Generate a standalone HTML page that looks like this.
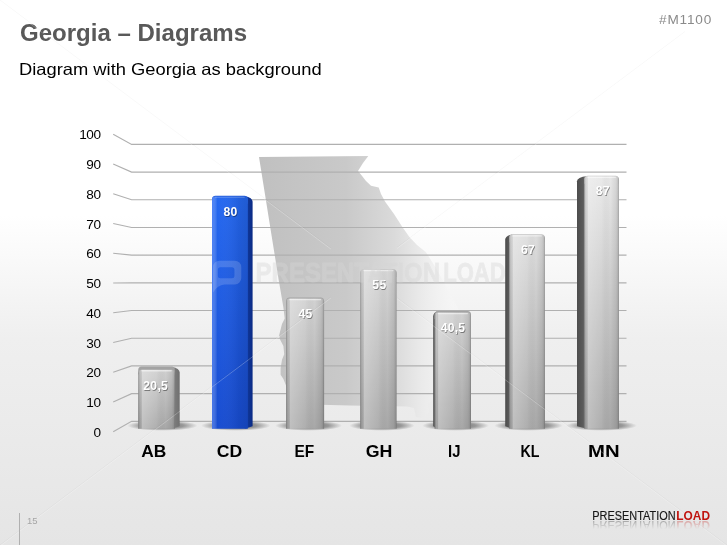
<!DOCTYPE html>
<html><head><meta charset="utf-8"><title>Georgia - Diagrams</title>
<style>html,body{margin:0;padding:0;background:#fff;}body{width:727px;height:545px;overflow:hidden;font-family:"Liberation Sans", sans-serif;}svg{display:block;will-change:transform;}text{font-family:"Liberation Sans", sans-serif;}</style>
</head><body>
<svg width="727" height="545" viewBox="0 0 727 545">
<defs>
<linearGradient id="bg" x1="0" y1="0" x2="0" y2="1">
 <stop offset="0" stop-color="#ffffff"/><stop offset="0.395" stop-color="#ffffff"/><stop offset="0.62" stop-color="#efefef"/><stop offset="1" stop-color="#e5e5e5"/>
</linearGradient>
<linearGradient id="mapg" gradientUnits="userSpaceOnUse" x1="259" y1="0" x2="452" y2="0">
 <stop offset="0" stop-color="#c0c0c0"/><stop offset="0.45" stop-color="#c9c9c9"/><stop offset="0.70" stop-color="#dadada"/><stop offset="0.84" stop-color="#eaeaea"/><stop offset="1" stop-color="#f6f6f6" stop-opacity="0.6"/>
</linearGradient>
<linearGradient id="gv" gradientUnits="userSpaceOnUse" x1="0" y1="172" x2="0" y2="429">
 <stop offset="0" stop-color="#e0e0e0"/><stop offset="0.5" stop-color="#c6c6c6"/><stop offset="1" stop-color="#a6a6a6"/>
</linearGradient>
<linearGradient id="gh" x1="0" y1="0" x2="1" y2="0">
 <stop offset="0" stop-color="#000" stop-opacity="0.30"/><stop offset="0.05" stop-color="#000" stop-opacity="0.04"/><stop offset="0.11" stop-color="#fff" stop-opacity="0.26"/><stop offset="0.5" stop-color="#fff" stop-opacity="0.08"/><stop offset="0.75" stop-color="#000" stop-opacity="0.0"/><stop offset="0.92" stop-color="#000" stop-opacity="0.08"/><stop offset="0.97" stop-color="#000" stop-opacity="0.16"/><stop offset="1" stop-color="#000" stop-opacity="0.34"/>
</linearGradient>
<linearGradient id="bv" x1="0" y1="0" x2="0" y2="1">
 <stop offset="0" stop-color="#2568f0"/><stop offset="1" stop-color="#184cd0"/>
</linearGradient>
<linearGradient id="bh" x1="0" y1="0" x2="1" y2="0">
 <stop offset="0" stop-color="#6f9bff" stop-opacity="0.5"/><stop offset="0.15" stop-color="#fff" stop-opacity="0.0"/><stop offset="0.75" stop-color="#000" stop-opacity="0.08"/><stop offset="1" stop-color="#000" stop-opacity="0.12"/>
</linearGradient>
<linearGradient id="bs" x1="0" y1="0" x2="1" y2="0">
 <stop offset="0" stop-color="#1b4fc4"/><stop offset="0.45" stop-color="#0f3596"/><stop offset="1" stop-color="#0a2a84"/>
</linearGradient>
<linearGradient id="gs" x1="0" y1="0" x2="1" y2="0">
 <stop offset="0" stop-color="#969696"/><stop offset="0.45" stop-color="#7a7a7a"/><stop offset="1" stop-color="#707070"/>
</linearGradient>
<linearGradient id="gl" x1="0" y1="0" x2="1" y2="0">
 <stop offset="0" stop-color="#4c4c4c"/><stop offset="0.6" stop-color="#5c5c5c"/><stop offset="1" stop-color="#8c8c8c"/>
</linearGradient>
<filter id="tb" x="-20%" y="-20%" width="140%" height="140%"><feGaussianBlur stdDeviation="0.6"/></filter>
<radialGradient id="sh" cx="0.5" cy="0.5" r="0.5">
 <stop offset="0" stop-color="#000" stop-opacity="0.55"/><stop offset="0.6" stop-color="#000" stop-opacity="0.35"/><stop offset="1" stop-color="#000" stop-opacity="0"/>
</radialGradient>
<linearGradient id="refl" x1="0" y1="0" x2="0" y2="1">
 <stop offset="0" stop-color="#fff" stop-opacity="0.34"/><stop offset="1" stop-color="#fff" stop-opacity="0"/>
</linearGradient>
<mask id="rm"><rect x="585" y="520" width="135" height="9" fill="url(#refl)"/></mask>
</defs>
<rect width="727" height="545" fill="url(#bg)"/>
<text x="20" y="40.5" font-size="23" font-weight="bold" fill="#595959" textLength="227" lengthAdjust="spacingAndGlyphs">Georgia – Diagrams</text>
<text x="19.0" y="75" font-size="16.5" fill="#000" textLength="302.6" lengthAdjust="spacingAndGlyphs">Diagram with Georgia as background</text>
<text x="659" y="24.4" font-size="13.6" fill="#8a8a8a" textLength="52.3" lengthAdjust="spacing">#M1100</text>
<path d="M259.0 157.0L368.3 156.0L363.0 163.0L358.0 171.0L361.5 175.3L366.0 181.0L371.0 185.7L378.7 187.6L381.0 194.0L385.0 201.4L394.0 214.0L402.7 227.5L409.6 237.2L417.0 245.0L426.0 252.3L436.0 268.0L448.0 290.0L457.0 306.0L464.0 320.0L461.0 332.0L455.0 350.0L449.0 370.0L443.0 388.0L440.0 398.0L432.0 400.0L428.0 404.0L429.0 412.0L424.0 418.0L416.0 417.0L414.0 408.0L407.0 406.5L350.0 405.5L291.0 404.0L288.0 395.0L286.7 387.2L283.4 379.0L280.6 374.8L280.6 368.0L282.0 359.7L284.2 354.2L283.4 346.0L279.8 339.0L279.2 335.0L282.0 324.0L284.7 318.5L283.4 307.5L280.6 291.0L278.7 280.0Z" fill="url(#mapg)"/>
<path d="M113.2 431.70L131.6 421.30L626.5 421.30M113.2 401.95L131.6 393.61L626.5 393.61M113.2 372.20L131.6 365.92L626.5 365.92M113.2 342.45L131.6 338.23L626.5 338.23M113.2 312.70L131.6 310.54L626.5 310.54M113.2 282.95L131.6 282.85L626.5 282.85M113.2 253.20L131.6 255.16L626.5 255.16M113.2 223.45L131.6 227.47L626.5 227.47M113.2 193.70L131.6 199.78L626.5 199.78M113.2 163.95L131.6 172.09L626.5 172.09M113.2 134.20L131.6 144.40L626.5 144.40" fill="none" stroke="#b0b0b0" stroke-width="1.15"/>
<text x="100.6" y="436.9" font-size="13.6" letter-spacing="-0.45" text-anchor="end" fill="#000">0</text>
<text x="100.6" y="407.1" font-size="13.6" letter-spacing="-0.45" text-anchor="end" fill="#000">10</text>
<text x="100.6" y="377.4" font-size="13.6" letter-spacing="-0.45" text-anchor="end" fill="#000">20</text>
<text x="100.6" y="347.6" font-size="13.6" letter-spacing="-0.45" text-anchor="end" fill="#000">30</text>
<text x="100.6" y="317.9" font-size="13.6" letter-spacing="-0.45" text-anchor="end" fill="#000">40</text>
<text x="100.6" y="288.1" font-size="13.6" letter-spacing="-0.45" text-anchor="end" fill="#000">50</text>
<text x="100.6" y="258.4" font-size="13.6" letter-spacing="-0.45" text-anchor="end" fill="#000">60</text>
<text x="100.6" y="228.6" font-size="13.6" letter-spacing="-0.45" text-anchor="end" fill="#000">70</text>
<text x="100.6" y="198.9" font-size="13.6" letter-spacing="-0.45" text-anchor="end" fill="#000">80</text>
<text x="100.6" y="169.1" font-size="13.6" letter-spacing="-0.45" text-anchor="end" fill="#000">90</text>
<text x="100.6" y="139.4" font-size="13.6" letter-spacing="-0.45" text-anchor="end" fill="#000">100</text>
<ellipse cx="162.4" cy="425.6" rx="35.2" ry="5.2" fill="url(#sh)"/>
<ellipse cx="235.8" cy="425.6" rx="34.8" ry="5.2" fill="url(#sh)"/>
<ellipse cx="308.6" cy="425.6" rx="33.5" ry="5.2" fill="url(#sh)"/>
<ellipse cx="381.9" cy="425.6" rx="32.7" ry="5.2" fill="url(#sh)"/>
<ellipse cx="455.6" cy="425.6" rx="33.4" ry="5.2" fill="url(#sh)"/>
<ellipse cx="528.5" cy="425.6" rx="34.3" ry="5.2" fill="url(#sh)"/>
<ellipse cx="601.5" cy="425.6" rx="35.4" ry="5.2" fill="url(#sh)"/>
<defs>
<linearGradient id="gAB" x1="0" y1="0" x2="0" y2="1"><stop offset="0" stop-color="#d0d0d0"/><stop offset="1" stop-color="#a8a8a8"/></linearGradient>
<linearGradient id="gEF" x1="0" y1="0" x2="0" y2="1"><stop offset="0" stop-color="#d2d2d2"/><stop offset="1" stop-color="#a8a8a8"/></linearGradient>
<linearGradient id="gGH" x1="0" y1="0" x2="0" y2="1"><stop offset="0" stop-color="#d6d6d6"/><stop offset="1" stop-color="#a8a8a8"/></linearGradient>
<linearGradient id="gIJ" x1="0" y1="0" x2="0" y2="1"><stop offset="0" stop-color="#d2d2d2"/><stop offset="1" stop-color="#a8a8a8"/></linearGradient>
<linearGradient id="gKL" x1="0" y1="0" x2="0" y2="1"><stop offset="0" stop-color="#dedede"/><stop offset="1" stop-color="#a8a8a8"/></linearGradient>
<linearGradient id="gMN" x1="0" y1="0" x2="0" y2="1"><stop offset="0" stop-color="#e8e8e8"/><stop offset="1" stop-color="#a8a8a8"/></linearGradient>
</defs>
<path d="M171.8 366.7Q179.7 368.5 179.7 372.5L179.7 426.2L171.8 428.8Z" fill="url(#gs)"/>
<path d="M138.2 374.5V370.0Q138.2 366.5 141.7 366.5H171.3Q174.8 366.5 174.8 370.0V374.5Z" fill="#a3a3a3"/>
<path d="M138.2 428.8V373.2Q138.2 369.7 141.7 369.7H171.3Q174.8 369.7 174.8 373.2V428.8Z" fill="url(#gAB)"/>
<path d="M138.2 428.8V373.2Q138.2 369.7 141.7 369.7H171.3Q174.8 369.7 174.8 373.2V428.8Z" fill="url(#gh)"/>
<rect x="141.2" y="370.1" width="30.6" height="1.3" rx="0.6" fill="#fff" fill-opacity="0.5"/>
<path d="M244.8 196.0Q252.6 197.8 252.6 201.8L252.6 426.2L244.8 428.8Z" fill="url(#bs)"/>
<path d="M212.0 203.8V199.3Q212.0 195.8 215.5 195.8H244.3Q247.8 195.8 247.8 199.3V203.8Z" fill="#2a5fd6"/>
<path d="M212.0 428.8V199.9Q212.0 196.4 215.5 196.4H244.3Q247.8 196.4 247.8 199.9V428.8Z" fill="url(#bv)"/>
<path d="M212.0 428.8V199.9Q212.0 196.4 215.5 196.4H244.3Q247.8 196.4 247.8 199.9V428.8Z" fill="url(#bh)"/>
<rect x="215.0" y="196.8" width="29.8" height="1.3" rx="0.6" fill="#fff" fill-opacity="0.18"/>
<path d="M286.1 305.5V301.0Q286.1 297.5 289.6 297.5H320.6Q324.1 297.5 324.1 301.0V305.5Z" fill="#a3a3a3"/>
<path d="M286.1 428.8V302.1Q286.1 298.6 289.6 298.6H320.6Q324.1 298.6 324.1 302.1V428.8Z" fill="url(#gEF)"/>
<path d="M286.1 428.8V302.1Q286.1 298.6 289.6 298.6H320.6Q324.1 298.6 324.1 302.1V428.8Z" fill="url(#gh)"/>
<rect x="289.1" y="299.0" width="32.0" height="1.3" rx="0.6" fill="#fff" fill-opacity="0.5"/>
<path d="M360.2 276.9V272.4Q360.2 268.9 363.7 268.9H393.0Q396.5 268.9 396.5 272.4V276.9Z" fill="#c2c2c2"/>
<path d="M360.2 428.8V273.0Q360.2 269.5 363.7 269.5H393.0Q396.5 269.5 396.5 273.0V428.8Z" fill="url(#gGH)"/>
<path d="M360.2 428.8V273.0Q360.2 269.5 363.7 269.5H393.0Q396.5 269.5 396.5 273.0V428.8Z" fill="url(#gh)"/>
<rect x="363.2" y="269.9" width="30.3" height="1.3" rx="0.6" fill="#fff" fill-opacity="0.5"/>
<path d="M437.6 311.2Q433.2 312.6 433.2 316.5L433.2 426.2L437.6 428.8Z" fill="url(#gl)"/>
<path d="M434.6 319.0V314.5Q434.6 311.0 438.1 311.0H467.5Q471.0 311.0 471.0 314.5V319.0Z" fill="#a3a3a3"/>
<path d="M434.6 428.8V316.0Q434.6 312.5 438.1 312.5H467.5Q471.0 312.5 471.0 316.0V428.8Z" fill="url(#gIJ)"/>
<path d="M434.6 428.8V316.0Q434.6 312.5 438.1 312.5H467.5Q471.0 312.5 471.0 316.0V428.8Z" fill="url(#gh)"/>
<rect x="437.6" y="312.9" width="30.4" height="1.3" rx="0.6" fill="#fff" fill-opacity="0.5"/>
<path d="M512.2 234.5Q505.2 235.9 505.2 239.8L505.2 426.2L512.2 428.8Z" fill="url(#gl)"/>
<path d="M509.2 242.3V237.8Q509.2 234.3 512.7 234.3H541.4Q544.9 234.3 544.9 237.8V242.3Z" fill="#c2c2c2"/>
<path d="M509.2 428.8V238.4Q509.2 234.9 512.7 234.9H541.4Q544.9 234.9 544.9 238.4V428.8Z" fill="url(#gKL)"/>
<path d="M509.2 428.8V238.4Q509.2 234.9 512.7 234.9H541.4Q544.9 234.9 544.9 238.4V428.8Z" fill="url(#gh)"/>
<rect x="512.2" y="235.3" width="29.7" height="1.3" rx="0.6" fill="#fff" fill-opacity="0.5"/>
<path d="M587.3 175.9Q577.0 177.3 577.0 181.2L577.0 426.2L587.3 428.8Z" fill="url(#gl)"/>
<path d="M584.3 183.7V179.2Q584.3 175.7 587.8 175.7H615.4Q618.9 175.7 618.9 179.2V183.7Z" fill="#c2c2c2"/>
<path d="M584.3 428.8V179.8Q584.3 176.3 587.8 176.3H615.4Q618.9 176.3 618.9 179.8V428.8Z" fill="url(#gMN)"/>
<path d="M584.3 428.8V179.8Q584.3 176.3 587.8 176.3H615.4Q618.9 176.3 618.9 179.8V428.8Z" fill="url(#gh)"/>
<rect x="587.3" y="176.7" width="28.6" height="1.3" rx="0.6" fill="#fff" fill-opacity="0.5"/>
<text x="156.4" y="390.5" font-size="12.2" letter-spacing="0.25" font-weight="bold" text-anchor="middle" fill="#000" fill-opacity="0.4" filter="url(#tb)">20,5</text>
<text x="155.7" y="389.6" font-size="12.2" letter-spacing="0.25" font-weight="bold" text-anchor="middle" fill="#fff">20,5</text>
<text x="231.3" y="217.1" font-size="12.2" letter-spacing="0.25" font-weight="bold" text-anchor="middle" fill="#000" fill-opacity="0.4" filter="url(#tb)">80</text>
<text x="230.6" y="216.2" font-size="12.2" letter-spacing="0.25" font-weight="bold" text-anchor="middle" fill="#fff">80</text>
<text x="306.2" y="319.3" font-size="12.2" letter-spacing="0.25" font-weight="bold" text-anchor="middle" fill="#000" fill-opacity="0.4" filter="url(#tb)">45</text>
<text x="305.5" y="318.4" font-size="12.2" letter-spacing="0.25" font-weight="bold" text-anchor="middle" fill="#fff">45</text>
<text x="380.1" y="289.8" font-size="12.2" letter-spacing="0.25" font-weight="bold" text-anchor="middle" fill="#000" fill-opacity="0.4" filter="url(#tb)">55</text>
<text x="379.4" y="288.9" font-size="12.2" letter-spacing="0.25" font-weight="bold" text-anchor="middle" fill="#fff">55</text>
<text x="453.7" y="333.3" font-size="12.2" letter-spacing="0.25" font-weight="bold" text-anchor="middle" fill="#000" fill-opacity="0.4" filter="url(#tb)">40,5</text>
<text x="453.0" y="332.4" font-size="12.2" letter-spacing="0.25" font-weight="bold" text-anchor="middle" fill="#fff">40,5</text>
<text x="528.7" y="255.0" font-size="12.2" letter-spacing="0.25" font-weight="bold" text-anchor="middle" fill="#000" fill-opacity="0.4" filter="url(#tb)">67</text>
<text x="528.0" y="254.1" font-size="12.2" letter-spacing="0.25" font-weight="bold" text-anchor="middle" fill="#fff">67</text>
<text x="603.4" y="195.6" font-size="12.2" letter-spacing="0.25" font-weight="bold" text-anchor="middle" fill="#000" fill-opacity="0.4" filter="url(#tb)">87</text>
<text x="602.7" y="194.7" font-size="12.2" letter-spacing="0.25" font-weight="bold" text-anchor="middle" fill="#fff">87</text>
<text x="141.2" y="457.2" font-size="16.6" font-weight="bold" fill="#000" textLength="25.1" lengthAdjust="spacingAndGlyphs">AB</text>
<text x="216.7" y="457.2" font-size="16.6" font-weight="bold" fill="#000" textLength="25.4" lengthAdjust="spacingAndGlyphs">CD</text>
<text x="294.5" y="457.2" font-size="16.6" font-weight="bold" fill="#000" textLength="19.7" lengthAdjust="spacingAndGlyphs">EF</text>
<text x="365.7" y="457.2" font-size="16.6" font-weight="bold" fill="#000" textLength="26.7" lengthAdjust="spacingAndGlyphs">GH</text>
<text x="448.1" y="457.2" font-size="16.6" font-weight="bold" fill="#000" textLength="12.4" lengthAdjust="spacingAndGlyphs">IJ</text>
<text x="520.5" y="457.2" font-size="16.6" font-weight="bold" fill="#000" textLength="19.0" lengthAdjust="spacingAndGlyphs">KL</text>
<text x="588.0" y="457.2" font-size="16.6" font-weight="bold" fill="#000" textLength="31.6" lengthAdjust="spacingAndGlyphs">MN</text>
<g><g fill="#d6d6d6" stroke="#d6d6d6" stroke-width="0.8" stroke-linejoin="round" opacity="0.4" font-size="28" font-weight="bold"><text x="255.6" y="282.3" textLength="184.5" lengthAdjust="spacingAndGlyphs">PRESENTATION</text><text x="443.2" y="282.3" textLength="62.5" lengthAdjust="spacingAndGlyphs">LOAD</text></g>
<path fill="#fff" fill-opacity="0.16" fill-rule="evenodd" d="M219.5 260.7h15.3a6.5 6.5 0 0 1 6.5 6.5v10.7a6.5 6.5 0 0 1 -6.5 6.5h-10.3q-7 0.6 -11.5 8v-25.2a6.5 6.5 0 0 1 6.5 -6.5zM220.4 267.2a2.5 2.5 0 0 0 -2.5 2.5v6a2.5 2.5 0 0 0 2.5 2.5h11.5a2.5 2.5 0 0 0 2.5 -2.5v-6a2.5 2.5 0 0 0 -2.5 -2.5z"/></g>
<g stroke-width="1" fill="none"><path d="M0 545L331 296.9M397 247.4L685 31.5M0 0L331 248.1M397 297.6L727 545" stroke="#000" stroke-opacity="0.028"/><path d="M0 546L331 297.9M397 248.4L685 32.5M0 1L331 249.1M397 298.6L727 546" stroke="#fff" stroke-opacity="0.24"/></g>
<rect x="19" y="513" width="1" height="32" fill="#b0b0b0"/>
<text x="27" y="523.8" font-size="9.5" fill="#a6a6a6">15</text>
<g ><text x="592.2" y="519.8" font-size="13.4" fill="#161616" stroke="#161616" stroke-width="0.15" textLength="83.5" lengthAdjust="spacingAndGlyphs">PRESENTATION</text><text x="676.3" y="519.8" font-size="13.4" font-weight="bold" fill="#c0140f" textLength="33.7" lengthAdjust="spacingAndGlyphs">LOAD</text></g>
<g mask="url(#rm)"><g transform="translate(0,1040.6) scale(1,-1)"><text x="592.2" y="519.8" font-size="13.4" fill="#161616" stroke="#161616" stroke-width="0.15" textLength="83.5" lengthAdjust="spacingAndGlyphs">PRESENTATION</text><text x="676.3" y="519.8" font-size="13.4" font-weight="bold" fill="#c0140f" textLength="33.7" lengthAdjust="spacingAndGlyphs">LOAD</text></g></g>
</svg></body></html>
